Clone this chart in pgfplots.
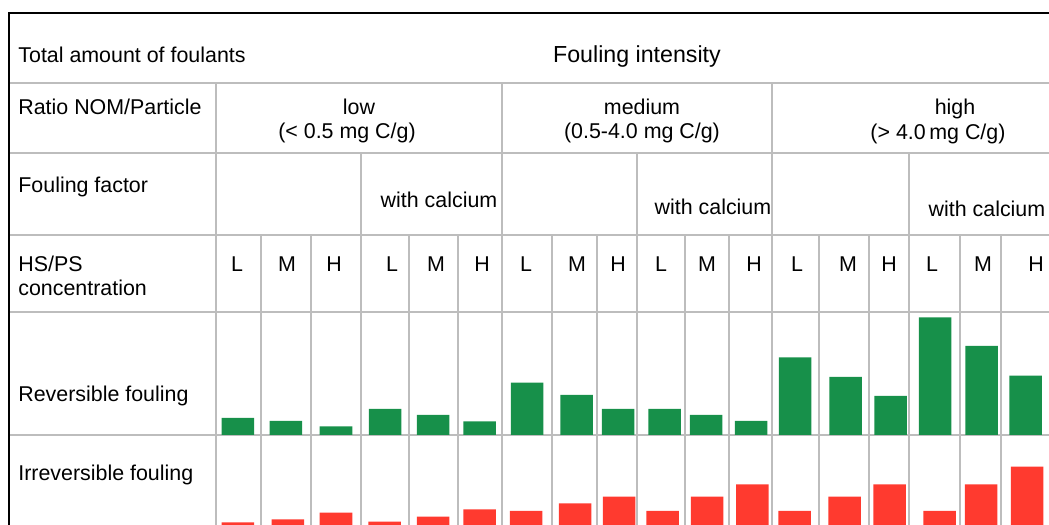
\documentclass[border=0pt]{standalone}
\usepackage{pgfplots}
\pgfplotsset{compat=1.18}
\usepackage{pgfplotstable}
\usepackage{fontspec}
\setmainfont{Liberation Sans}

\definecolor{revgreen}{HTML}{17904A}
\definecolor{irrred}{HTML}{FF3A2F}
\definecolor{gridgray}{HTML}{BDBDBD}

% bar centre (px across the sheet) and bar height (px)
\pgfplotstableread{
x h
238 17
286 14
336 8.7
385 26
433 20
479.5 13.7
527 52.3
576.5 40
618 26
664.5 26
706 20
751 14
795 77.7
845.5 58
890.5 39
935 117.7
981.5 89
1025.5 59.3
}\reversible

% heights measured from a baseline below the cut edge
\pgfplotstableread{
x h
238 35.7
288 38.7
336 45.3
384.7 36.3
433 41.3
479.5 48.7
526 47
575 54.7
619 61.3
662.7 47
707 61.3
752.3 73.7
794.7 47
844.7 61.3
889.7 73.7
939.5 47
981 73.7
1027 91.3
}\irreversible

\newcommand\tab{\fontsize{10.7bp}{12.8bp}\selectfont}

\begin{document}
\begin{tikzpicture}
\useasboundingbox (0,0) rectangle (524.5bp,-262.5bp);
\begin{scope}[x=0.5bp,y=-0.5bp]
  % table rules
  \begin{scope}[gridgray, line width=0.6bp]
    \foreach \yy in {83,153,235,312,435} \draw (9,\yy) -- (1049,\yy);
    \foreach \xx in {216,502,772} \draw (\xx,83) -- (\xx,525);
    \foreach \xx in {361,637,909} \draw (\xx,153) -- (\xx,525);
    \foreach \xx in {261,311,409,458,552,597,685,729,819,869,960,1001}
      \draw (\xx,235) -- (\xx,525);
  \end{scope}
  \draw[black, line width=1bp] (9,525) -- (9,13) -- (1049,13);

  \begin{scope}[every node/.style={inner sep=0pt, text=black, font=\tab}]
    \node[anchor=base west] at (18,62) {Total amount of foulants};
    \node[anchor=base, font=\fontsize{11.6bp}{14bp}\selectfont] at (637,62) {Fouling intensity};
    \node[anchor=base west] at (18,115) {Ratio NOM/Particle};
    \node[anchor=base] at (359,115) {low};
    \node[anchor=base] at (347,139) {(< 0.5 mg C/g)};
    \node[anchor=base] at (642,115) {medium};
    \node[anchor=base] at (642,139) {(0.5-4.0 mg C/g)};
    \node[anchor=base] at (955,115) {high};
    \node[anchor=base] at (938,140) {(> 4.0\,mg C/g)};
    \node[anchor=base west] at (18,193) {Fouling factor};
    \node[anchor=base] at (439,208) {with calcium};
    \node[anchor=base] at (713,215) {with calcium};
    \node[anchor=base] at (987,217) {with calcium};
    \node[anchor=base west] at (18,272) {HS/PS};
    \node[anchor=base west] at (18,296) {concentration};
    \foreach \xx/\lab in {237/L,287/M,334/H,392/L,436/M,482/H,526/L,577/M,618/H,
                          661/L,707/M,754/H,797/L,848/M,889/H,932/L,983/M,1036/H}
      \node[anchor=base] at (\xx,272) {\lab};
    \node[anchor=base west] at (18,402) {Reversible fouling};
    \node[anchor=base west] at (18,481) {Irreversible fouling};
  \end{scope}

  \coordinate (rev) at (216,435);
  \coordinate (irr) at (216,525);
\end{scope}

\pgfplotsset{rowbars/.style={scale only axis, width=416.5bp, hide axis,
  xmin=216, xmax=1049, ybar, bar width=32.5, bar shift=0pt, clip=true}}

\begin{axis}[rowbars, at={(rev)}, anchor=south west, height=61.5bp, ymin=0, ymax=123]
  \addplot[draw=none, fill=revgreen] table[x=x, y=h] {\reversible};
\end{axis}

\begin{axis}[rowbars, at={(irr)}, anchor=south west, height=45bp, ymin=33, ymax=123]
  \addplot[draw=none, fill=irrred] table[x=x, y=h] {\irreversible};
\end{axis}
\end{tikzpicture}
\end{document}
